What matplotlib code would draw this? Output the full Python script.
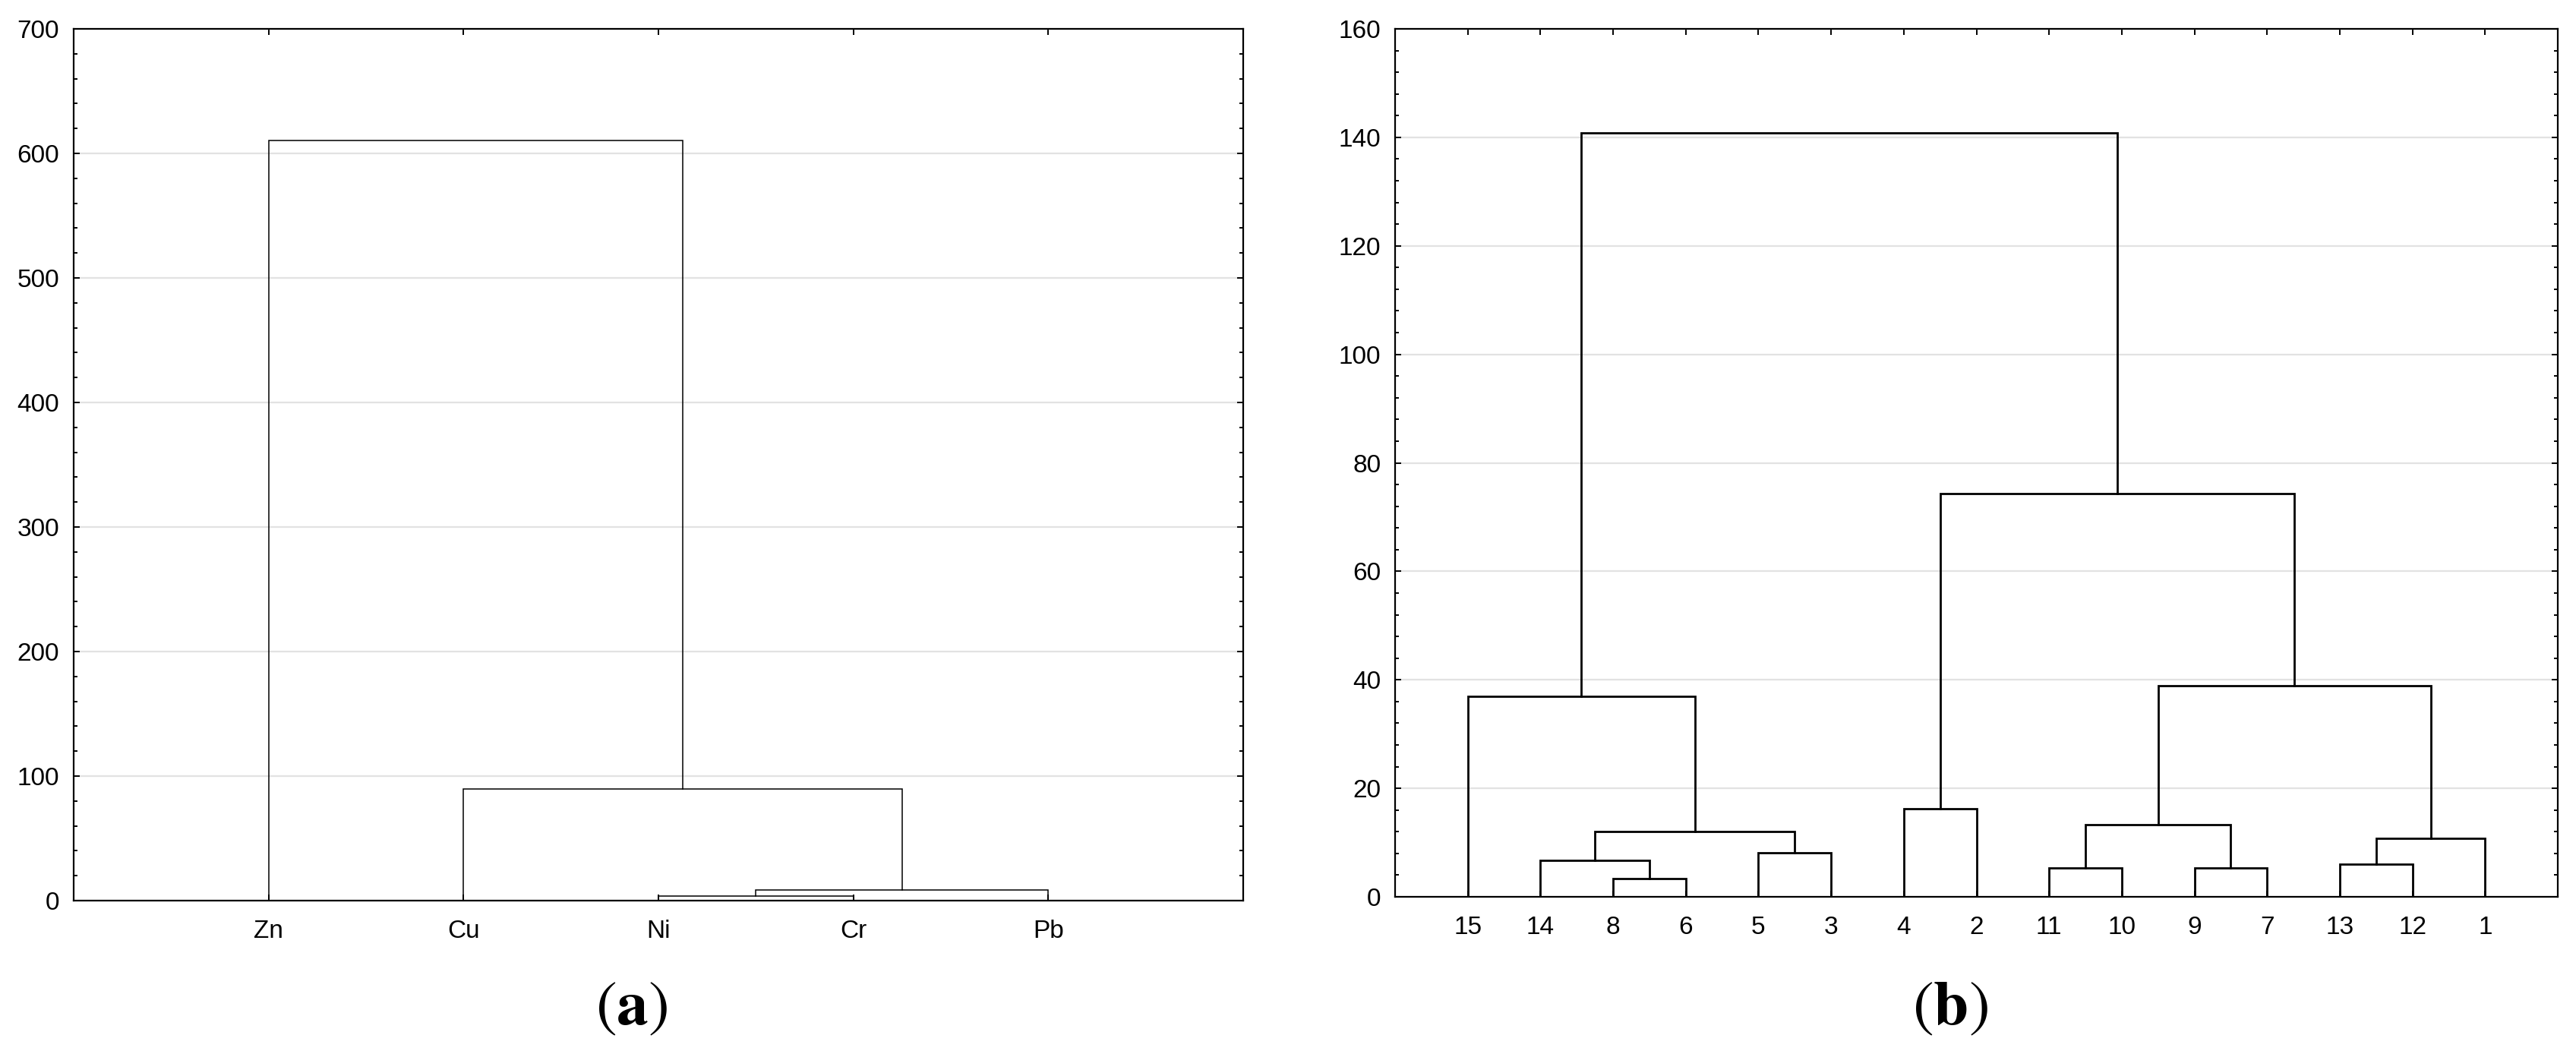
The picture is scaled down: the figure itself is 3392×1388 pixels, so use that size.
import matplotlib
matplotlib.use('Agg')
import matplotlib.pyplot as plt
from matplotlib.ticker import MultipleLocator

plt.rcParams['font.family'] = ['Liberation Sans', 'DejaVu Sans']
plt.rcParams['mathtext.fontset'] = 'stix'

# panel (a): metals
leavesA = ['Zn', 'Cu', 'Ni', 'Cr', 'Pb']
# (left, right, height); ids >= len(leaves) point to earlier merges
mergesA = [(2, 3, 3.7), (5, 4, 8.3), (1, 6, 89.8), (0, 7, 610.3)]

# panel (b): sites
leavesB = ['15', '14', '8', '6', '5', '3', '4', '2', '11', '10', '9', '7', '13', '12', '1']
mergesB = [(2, 3, 3.3), (1, 15, 6.7), (4, 5, 8.1), (16, 17, 12.0), (0, 18, 37.0),
           (6, 7, 16.2), (8, 9, 5.3), (10, 11, 5.3), (21, 22, 13.3), (12, 13, 6.0),
           (24, 14, 10.8), (23, 25, 38.9), (20, 26, 74.4), (19, 27, 140.8)]


def drawDendro(ax, leaves, merges, lw):
    n = len(leaves)
    xs = [i + 1 for i in range(n)]
    ys = [0.0] * n
    for left, right, h in merges:
        xl, yl = xs[left], ys[left]
        xr, yr = xs[right], ys[right]
        ax.plot([xl, xl, xr, xr], [yl, h, h, yr], color='black', lw=lw,
                solid_joinstyle='miter', zorder=3)
        xs.append((xl + xr) / 2.0)
        ys.append(h)
    ax.set_xlim(0, n + 1)
    ax.set_xticks(range(1, n + 1))
    ax.set_xticklabels(leaves)


def styleAxis(ax, ymax, major, minor):
    ax.set_ylim(0, ymax)
    ax.yaxis.set_major_locator(MultipleLocator(major))
    ax.yaxis.set_minor_locator(MultipleLocator(minor))
    ax.grid(axis='y', which='major', color='#e2e2e2', lw=1.6, zorder=0)
    ax.set_axisbelow(True)
    for sp in ax.spines.values():
        sp.set_linewidth(1.6)
        sp.set_zorder(4)
    ax.tick_params(axis='y', which='major', direction='in', left=True, right=True,
                   length=5.8, width=1.4, labelsize=24, pad=13.5)
    ax.tick_params(axis='y', which='minor', direction='in', left=True, right=True,
                   length=3.6, width=1.4)
    ax.tick_params(axis='x', which='major', direction='in', top=True, bottom=True,
                   length=5.8, width=1.4, labelsize=24, pad=18)


fig = plt.figure(figsize=(33.92, 13.88), dpi=100)

axA = fig.add_axes([97 / 3392, (1388 - 1186) / 1388, 1540 / 3392, 1148 / 1388])
drawDendro(axA, leavesA, mergesA, lw=1.1)
styleAxis(axA, 700, 100, 20)

axB = fig.add_axes([1837 / 3392, (1388 - 1181) / 1388, 1531 / 3392, 1143 / 1388])
drawDendro(axB, leavesB, mergesB, lw=2.0)
styleAxis(axB, 160, 20, 4)

fig.text(832 / 3392, 1 - 1327 / 1388, r'$(\mathbf{a})$', fontsize=60, ha='center', va='center')
fig.text(2568 / 3392, 1 - 1327 / 1388, r'$(\mathbf{b})$', fontsize=60, ha='center', va='center')

fig.savefig('out.png', dpi=100)
